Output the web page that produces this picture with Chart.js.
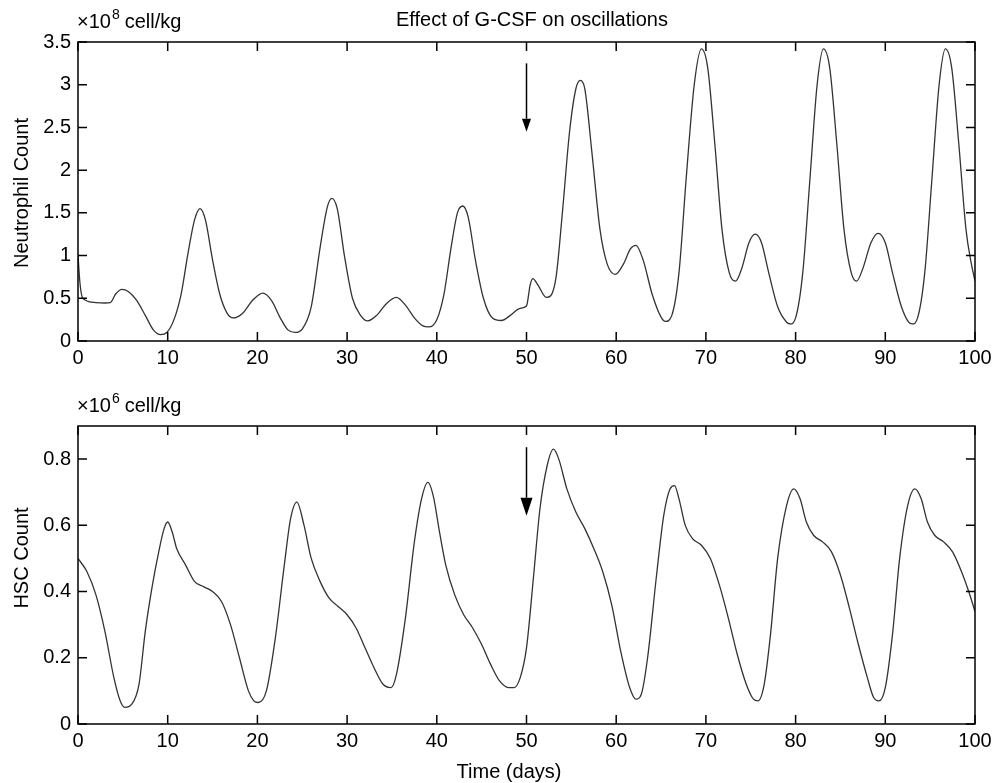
<!DOCTYPE html>
<html>
<head>
<meta charset="utf-8">
<script src="https://cdn.jsdelivr.net/npm/chart.js@4"></script>
<style>
  html, body { margin: 0; padding: 0; background: #fff; }
  #wrap { position: relative; width: 997px; height: 783px; }
  canvas { position: absolute; left: 0; }
  #top-chart { top: 0; }
  #bottom-chart { top: 380px; }
</style>
</head>
<body>
<div id="wrap">
  <canvas id="top-chart" width="997" height="380"></canvas>
  <canvas id="bottom-chart" width="997" height="403"></canvas>
</div>
<script>
// neutrophil count (x10^8 cell/kg) against time in days
const neutroTime = [0, 0.2, 0.45, 0.8, 1.2, 2, 3, 3.6, 4.2, 4.9, 5.6, 6.5, 7.5, 8.4, 9.2, 9.9, 10.7, 11.5, 12.3, 13, 13.6, 14.2, 15, 15.8, 16.6, 17.3, 18.3, 19.5, 20.6, 21.6, 22.5, 23.4, 24.2, 25, 26, 27, 27.8, 28.3, 28.9, 29.7, 30.6, 31.5, 32.3, 33.3, 34.4, 35.5, 36.5, 37.5, 38.4, 39.1, 40, 40.8, 41.6, 42.3, 42.9, 43.5, 44.3, 45.2, 46.2, 47.2, 48.2, 49.2, 50, 50.1, 50.4, 50.7, 51.3, 52.2, 52.7, 53.3, 54, 54.8, 55.5, 56, 56.5, 57.3, 58.2, 59, 59.9, 60.8, 61.6, 62.2, 63, 64, 65, 65.5, 66.2, 67, 67.8, 68.7, 69.5, 70.2, 71, 71.8, 72.6, 73.3, 74, 74.8, 75.5, 76.2, 77, 78, 79, 79.4, 80, 80.8, 81.6, 82.4, 83.1, 83.8, 84.6, 85.4, 86.2, 86.8, 87.5, 88.4, 89.2, 90, 90.8, 91.8, 92.6, 93, 93.6, 94.4, 95.2, 96, 96.7, 97.4, 98.2, 99, 99.6, 100];
const neutroValues = [1.0, 0.7, 0.52, 0.48, 0.46, 0.45, 0.445, 0.45, 0.55, 0.605, 0.58, 0.48, 0.3, 0.13, 0.075, 0.1, 0.25, 0.55, 1.05, 1.42, 1.55, 1.42, 0.95, 0.55, 0.33, 0.27, 0.32, 0.48, 0.56, 0.47, 0.28, 0.13, 0.1, 0.14, 0.4, 1.1, 1.57, 1.67, 1.55, 1.0, 0.5, 0.3, 0.235, 0.3, 0.44, 0.51, 0.42, 0.27, 0.18, 0.165, 0.25, 0.55, 1.1, 1.5, 1.58, 1.45, 0.95, 0.5, 0.27, 0.24, 0.3, 0.38, 0.41, 0.45, 0.65, 0.73, 0.65, 0.51, 0.53, 0.75, 1.5, 2.45, 2.95, 3.05, 2.95, 2.2, 1.3, 0.9, 0.78, 0.9, 1.08, 1.12, 0.95, 0.55, 0.28, 0.23, 0.3, 0.8, 1.9, 3.0, 3.42, 3.2, 2.3, 1.3, 0.8, 0.7, 0.85, 1.15, 1.25, 1.15, 0.8, 0.4, 0.22, 0.2, 0.27, 0.8, 1.9, 3.0, 3.42, 3.2, 2.3, 1.3, 0.8, 0.7, 0.85, 1.15, 1.26, 1.15, 0.8, 0.4, 0.22, 0.2, 0.27, 0.8, 1.9, 3.0, 3.42, 3.2, 2.3, 1.3, 0.9, 0.7];

// HSC count (x10^6 cell/kg)
const hscTime = [0, 1, 2, 3, 4, 4.7, 5.2, 6, 6.8, 7.5, 8.3, 9, 9.6, 10, 10.5, 11, 12, 13, 14, 15, 16, 17, 18, 19, 19.6, 20.1, 21, 22, 23, 23.7, 24.4, 25.2, 26, 27, 28, 29, 30, 31, 32, 33, 34, 34.9, 35.5, 36.5, 37.5, 38.3, 39, 39.6, 40.3, 41, 42, 43, 44, 45, 46, 47, 48, 48.6, 49.3, 50, 50.8, 51.5, 52.3, 53, 53.6, 54.5, 55.5, 56.5, 57.5, 58.5, 59.5, 60.5, 61.5, 62.2, 62.8, 63.5, 64.5, 65.3, 66, 66.5, 67, 67.7, 68.5, 69.5, 70.5, 71.5, 72.5, 73.5, 74.5, 75.3, 75.8, 76.5, 77.2, 78, 79, 79.8, 80.5, 81.2, 82, 83, 84, 85, 86, 87, 88, 88.7, 89.3, 90, 90.8, 91.6, 92.5, 93.3, 94, 94.7, 95.5, 96.5, 97.5, 98.5, 99.3, 100];
const hscValues = [0.5, 0.46, 0.39, 0.28, 0.14, 0.07, 0.05, 0.06, 0.12, 0.28, 0.42, 0.52, 0.59, 0.61, 0.58, 0.53, 0.48, 0.43, 0.415, 0.4, 0.37, 0.3, 0.2, 0.1, 0.07, 0.065, 0.1, 0.26, 0.48, 0.62, 0.67, 0.6, 0.5, 0.43, 0.38, 0.355, 0.33, 0.29, 0.23, 0.17, 0.12, 0.11, 0.15, 0.32, 0.55, 0.68, 0.73, 0.69, 0.58, 0.48, 0.39, 0.33, 0.29, 0.24, 0.18, 0.13, 0.11, 0.11, 0.14, 0.23, 0.45, 0.65, 0.78, 0.83, 0.8, 0.71, 0.64, 0.59, 0.53, 0.46, 0.36, 0.22, 0.11, 0.075, 0.09, 0.2, 0.45, 0.63, 0.71, 0.72, 0.68, 0.6, 0.56, 0.54, 0.5, 0.42, 0.32, 0.21, 0.12, 0.075, 0.07, 0.12, 0.27, 0.5, 0.66, 0.71, 0.68, 0.61, 0.57, 0.55, 0.52, 0.45, 0.35, 0.24, 0.14, 0.08, 0.07, 0.11, 0.27, 0.5, 0.66, 0.71, 0.68, 0.61, 0.57, 0.55, 0.52, 0.46, 0.4, 0.34];

const xTicks = [0, 10, 20, 30, 40, 50, 60, 70, 80, 90, 100];
const neutroTicks = [0, 0.5, 1, 1.5, 2, 2.5, 3, 3.5];
const hscTicks = [0, 0.2, 0.4, 0.6, 0.8];

// G-CSF arrows: [time, from, to]
const neutroArrow = [50, 3.25, 2.45];
const hscArrow = [50, 0.836, 0.629];

const FONT = '"Liberation Sans", Arial, Helvetica, sans-serif';
Chart.defaults.font.family = FONT;
Chart.defaults.font.size = 20;
Chart.defaults.color = '#000';

function toPoints(xs, ys) {
  return xs.map((x, i) => ({ x: x, y: ys[i] }));
}

function framePlugin(cfg) {
  return {
    id: 'frame',
    afterDraw(chart) {
      const ctx = chart.ctx;
      const a = chart.chartArea;
      const xs = chart.scales.x, ys = chart.scales.y;
      ctx.save();
      ctx.strokeStyle = '#000';
      ctx.lineWidth = 1.5;
      ctx.strokeRect(a.left, a.top, a.right - a.left, a.bottom - a.top);
      ctx.beginPath();
      xTicks.forEach(v => {
        const px = xs.getPixelForValue(v);
        ctx.moveTo(px, a.bottom); ctx.lineTo(px, a.bottom - 9);
        ctx.moveTo(px, a.top); ctx.lineTo(px, a.top + 9);
      });
      cfg.yTicks.forEach(v => {
        const py = ys.getPixelForValue(v);
        ctx.moveTo(a.left, py); ctx.lineTo(a.left + 9, py);
        ctx.moveTo(a.right, py); ctx.lineTo(a.right - 9, py);
      });
      ctx.stroke();

      // arrow
      const ax = xs.getPixelForValue(cfg.arrow[0]);
      const y0 = ys.getPixelForValue(cfg.arrow[1]);
      const y1 = ys.getPixelForValue(cfg.arrow[2]);
      ctx.lineWidth = 1.5;
      ctx.beginPath();
      ctx.moveTo(ax, y0); ctx.lineTo(ax, y1 - cfg.head[0]);
      ctx.stroke();
      ctx.fillStyle = '#000';
      ctx.beginPath();
      ctx.moveTo(ax - cfg.head[1] / 2, y1 - cfg.head[0]);
      ctx.lineTo(ax + cfg.head[1] / 2, y1 - cfg.head[0]);
      ctx.lineTo(ax, y1);
      ctx.closePath();
      ctx.fill();

      // unit label
      ctx.fillStyle = '#000';
      ctx.textBaseline = 'alphabetic';
      ctx.textAlign = 'left';
      let tx = a.left - 1;
      const ty = a.top - 14;
      ctx.font = '20px ' + FONT;
      ctx.fillText('\u00d710', tx, ty);
      tx += ctx.measureText('\u00d710').width + 1;
      ctx.font = '14px ' + FONT;
      ctx.fillText(cfg.exp, tx, ty - 9);
      tx += ctx.measureText(cfg.exp).width + 5;
      ctx.font = '20px ' + FONT;
      ctx.fillText('cell/kg', tx, ty);

      // y label
      ctx.save();
      ctx.translate(28, cfg.yLabelY);
      ctx.rotate(-Math.PI / 2);
      ctx.textAlign = 'center';
      ctx.fillText(cfg.yLabel, 0, 0);
      ctx.restore();

      if (cfg.title) {
        ctx.textAlign = 'center';
        ctx.fillText(cfg.title, 532, 26);
      }
      if (cfg.xLabel) {
        ctx.textAlign = 'center';
        ctx.fillText(cfg.xLabel, 509, chart.height - 5);
      }
      ctx.restore();
    }
  };
}

function makeChart(canvas, xsData, ysData, yTicks, yMax, pad, xHeight, plugin) {
  return new Chart(canvas.getContext('2d'), {
    type: 'line',
    data: {
      datasets: [{
        data: toPoints(xsData, ysData),
        borderColor: '#333',
        borderWidth: 1.3,
        pointRadius: 0,
        cubicInterpolationMode: 'monotone',
        fill: false
      }]
    },
    options: {
      responsive: false,
      animation: false,
      devicePixelRatio: 1,
      layout: { padding: pad },
      plugins: { legend: { display: false }, tooltip: { enabled: false } },
      scales: {
        x: {
          type: 'linear',
          min: 0, max: 100,
          afterBuildTicks: s => { s.ticks = xTicks.map(v => ({ value: v })); },
          afterFit: s => { s.height = xHeight; },
          ticks: { padding: 5, maxRotation: 0, autoSkip: false, callback: v => String(v) },
          grid: { display: false, drawTicks: false },
          border: { display: false }
        },
        y: {
          type: 'linear',
          min: 0, max: yMax,
          afterBuildTicks: s => { s.ticks = yTicks.map(v => ({ value: v })); },
          afterFit: s => { s.width = 78; },
          ticks: { padding: 7, callback: v => String(v) },
          grid: { display: false, drawTicks: false },
          border: { display: false }
        }
      }
    },
    plugins: [plugin]
  });
}

makeChart(document.getElementById('top-chart'), neutroTime, neutroValues, neutroTicks, 3.5,
  { top: 42, right: 22, left: 0, bottom: 0 }, 39,
  framePlugin({ yTicks: neutroTicks, arrow: neutroArrow, head: [13, 9], exp: '8',
    yLabel: 'Neutrophil Count', yLabelY: 193, title: 'Effect of G-CSF on oscillations' }));

makeChart(document.getElementById('bottom-chart'), hscTime, hscValues, hscTicks, 0.9,
  { top: 46, right: 22, left: 0, bottom: 0 }, 59,
  framePlugin({ yTicks: hscTicks, arrow: hscArrow, head: [18, 12], exp: '6',
    yLabel: 'HSC Count', yLabelY: 178, xLabel: 'Time (days)' }));
</script>
</body>
</html>
